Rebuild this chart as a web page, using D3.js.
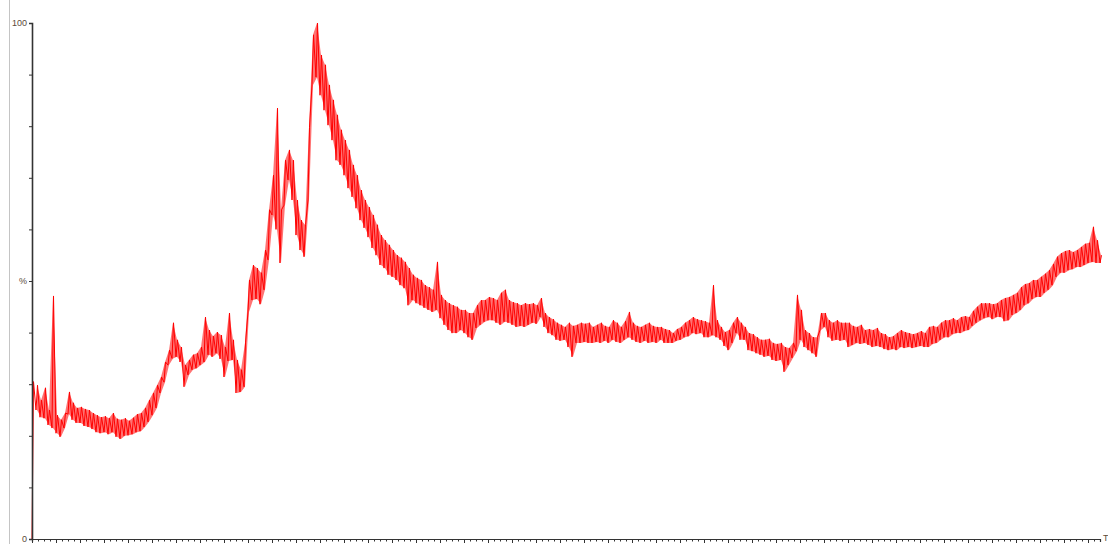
<!DOCTYPE html>
<html>
<head>
<meta charset="utf-8">
<script src="https://cdn.jsdelivr.net/npm/d3@7"></script>
<style>
  html, body { margin: 0; padding: 0; background: #fff; }
  svg { display: block; }
  text { font-family: "Liberation Sans", Arial, sans-serif; }
</style>
</head>
<body>
<svg id="chart" width="1108" height="544"></svg>
<script>
// ---- data (values in %, one low/high pair per sample, samples every 4 time units) ----
const sampleStep = 4;
const timeMax = 1068;
const lows = [
  0, 25.0, 23.6, 23.4, 22.1, 21.5, 20.5, 19.8, 21.5, 24.2,
  23.1, 22.5, 22.5, 21.9, 21.7, 21.3, 20.7, 20.5, 20.7, 20.3,
  20.7, 19.8, 19.4, 20.0, 20.1, 20.3, 20.7, 20.9, 21.7, 22.7,
  24.0, 25.4, 28.3, 30.4, 33.7, 35.0, 35.3, 34.3, 29.5, 31.8,
  32.8, 33.1, 33.7, 34.3, 35.7, 35.3, 36.0, 34.9, 31.4, 34.5,
  34.7, 28.3, 28.5, 29.5, 44.0, 46.3, 46.5, 45.5, 48.3, 54.1,
  62.8, 60.0, 53.5, 64.7, 69.6, 65.7, 58.9, 56.0, 54.7, 65.7,
  88.0, 89.5, 86.0, 83.1, 80.2, 77.3, 73.4, 72.5, 70.5, 68.0,
  66.3, 64.1, 61.8, 60.3, 58.5, 56.4, 55.0, 53.1, 52.5, 51.2,
  50.8, 50.2, 49.2, 48.6, 45.3, 46.3, 45.7, 45.3, 44.8, 44.4,
  44.0, 44.4, 42.8, 41.5, 40.5, 39.9, 39.9, 40.5, 39.9, 39.1,
  38.6, 40.9, 41.5, 42.1, 42.4, 42.4, 41.9, 41.5, 42.1, 41.9,
  41.5, 41.1, 41.3, 41.1, 41.5, 41.9, 41.7, 43.0, 41.1, 39.9,
  39.5, 38.6, 38.4, 38.6, 37.2, 35.3, 38.0, 38.0, 38.2, 38.0,
  38.0, 38.2, 38.0, 38.4, 38.0, 38.6, 38.2, 38.0, 38.6, 39.1,
  38.6, 38.2, 38.0, 38.4, 38.0, 38.2, 38.0, 38.6, 38.0, 38.0,
  38.0, 38.4, 38.6, 39.1, 39.3, 39.9, 39.7, 39.9, 39.1, 39.1,
  39.5, 39.1, 38.6, 37.4, 36.6, 38.0, 39.9, 38.6, 38.6, 36.6,
  36.4, 36.0, 35.7, 35.3, 35.5, 34.7, 34.5, 34.7, 32.4, 33.7,
  35.1, 36.4, 38.6, 37.2, 36.6, 36.0, 35.3, 40.5, 41.1, 39.1,
  38.4, 38.6, 38.4, 38.6, 37.2, 37.6, 38.0, 37.8, 38.0, 37.6,
  37.2, 37.4, 37.2, 36.8, 36.6, 36.8, 36.6, 37.2, 37.0, 37.2,
  37.0, 37.2, 37.4, 37.2, 37.2, 37.8, 38.0, 38.6, 39.1, 39.1,
  39.7, 39.9, 39.9, 40.3, 40.5, 41.3, 41.9, 42.4, 42.8, 43.0,
  42.6, 43.0, 43.0, 42.2, 42.4, 43.4, 43.8, 44.4, 45.3, 45.7,
  46.5, 46.9, 46.9, 47.7, 48.3, 49.2, 50.8, 51.6, 51.6, 52.1,
  52.3, 52.7, 52.7, 53.1, 53.5, 53.7, 53.5, 53.5
];
const highs = [
  30.5, 29.8, 26.9, 29.3, 25.0, 47.1, 24.0, 23.1, 24.4, 28.5,
  26.4, 25.4, 25.6, 25.2, 25.0, 24.4, 24.0, 23.6, 23.8, 23.4,
  24.4, 23.3, 23.1, 23.4, 22.9, 23.5, 24.2, 24.4, 25.4, 26.9,
  28.3, 29.8, 31.4, 34.3, 36.6, 41.9, 38.6, 37.2, 33.7, 34.7,
  35.7, 36.0, 37.2, 43.0, 40.5, 39.3, 40.1, 39.5, 37.2, 43.8,
  38.6, 34.7, 32.8, 38.0, 50.2, 53.1, 52.5, 51.6, 56.0, 63.8,
  70.5, 83.5, 63.8, 73.4, 75.4, 73.4, 65.7, 61.8, 60.9, 79.8,
  97.7, 100, 93.8, 91.9, 88.0, 85.1, 82.2, 79.3, 77.3, 75.4,
  72.5, 70.5, 67.6, 65.7, 64.3, 62.8, 60.9, 58.9, 57.9, 57.0,
  56.0, 55.0, 54.5, 53.7, 52.5, 51.2, 50.6, 50.2, 49.2, 48.8,
  48.3, 53.7, 47.3, 46.3, 45.7, 45.3, 45.0, 44.4, 44.4, 43.8,
  43.8, 45.3, 46.3, 46.3, 46.9, 46.7, 46.3, 47.7, 48.3, 46.3,
  45.9, 45.7, 45.3, 45.7, 45.5, 45.7, 45.3, 46.7, 43.8, 43.0,
  42.6, 41.9, 41.5, 41.1, 41.9, 41.3, 41.5, 41.9, 41.7, 41.9,
  41.1, 41.5, 41.9, 41.3, 41.1, 42.4, 41.9, 41.1, 42.2, 44.0,
  41.9, 41.3, 41.1, 41.5, 41.9, 41.3, 41.1, 41.1, 40.7, 40.5,
  39.9, 40.7, 41.1, 41.9, 42.4, 43.0, 42.6, 42.4, 42.2, 41.9,
  49.2, 42.4, 41.1, 40.1, 40.5, 41.9, 43.0, 41.9, 41.1, 39.9,
  39.7, 39.1, 38.6, 38.6, 38.8, 38.0, 37.8, 38.0, 37.2, 37.0,
  38.0, 47.3, 44.4, 40.5, 39.9, 39.1, 39.1, 43.8, 43.8, 42.4,
  41.9, 42.4, 41.9, 41.9, 41.9, 41.3, 41.1, 41.5, 40.5, 40.7,
  40.5, 40.9, 39.9, 39.7, 39.1, 39.3, 39.9, 40.5, 40.1, 39.9,
  39.7, 39.9, 40.3, 39.9, 41.1, 41.3, 41.1, 41.9, 42.4, 42.4,
  42.8, 42.4, 43.0, 43.2, 43.0, 44.2, 45.0, 45.7, 45.7, 45.7,
  45.5, 45.7, 46.3, 46.7, 46.9, 47.3, 47.7, 48.8, 49.4, 49.6,
  50.2, 50.2, 50.8, 51.4, 52.1, 53.3, 54.7, 55.4, 55.8, 56.0,
  55.6, 56.0, 56.6, 57.2, 57.4, 60.5, 57.9, 55.0
];
const yTickValues = [0, 10, 20, 30, 40, 50, 60, 70, 80, 90, 100];
const yTickLabels = { 0: "0", 50: "%", 100: "100" };
const xEndLabel = "T";

// ---- layout ----
const svg = d3.select("#chart");
const plotLeft = 32, plotRight = 1100, plotTop = 23, plotBottom = 539;

const x = d3.scaleLinear().domain([0, timeMax]).range([plotLeft, plotRight]);
const y = d3.scaleLinear().domain([0, 100]).range([plotBottom, plotTop]);

// left frame border
svg.append("line")
  .attr("x1", 9.5).attr("x2", 9.5).attr("y1", 0).attr("y2", 544)
  .attr("stroke", "#c4c4c4").attr("stroke-width", 1);

// band between low and high readings (dense noise body)
const bandData = lows.map((lo, i) => ({ t: i * sampleStep, lo: lo, hi: highs[i] }));
const band = d3.area()
  .x(d => x(d.t + 1))
  .y0(d => y(d.lo))
  .y1(d => y(d.hi));
svg.append("path")
  .datum(bandData.slice(1))
  .attr("fill", "#ff0000")
  .attr("fill-opacity", 0.55)
  .attr("stroke", "none")
  .attr("d", band);

// noisy trace: low then high for each sample
const pts = [];
bandData.forEach(d => {
  pts.push([d.t, d.lo]);
  pts.push([d.t + 1.5, d.hi]);
});
const line = d3.line().x(d => x(d[0])).y(d => y(d[1]));
svg.append("path")
  .datum(pts)
  .attr("fill", "none")
  .attr("stroke", "#ff0000")
  .attr("stroke-width", 1)
  .attr("d", line);

// y axis
const yAxis = d3.axisLeft(y)
  .tickValues(yTickValues)
  .tickSize(3)
  .tickPadding(2)
  .tickFormat(d => yTickLabels[d] || "");
const gy = svg.append("g").attr("transform", `translate(${plotLeft},0)`).call(yAxis);
gy.select(".domain").attr("stroke", "#333").attr("stroke-width", 1.6);
gy.selectAll(".tick line").attr("stroke", "#333");
gy.selectAll(".tick text").attr("fill", "#5a4a3a").attr("font-size", 9);

// x axis
const xAxis = d3.axisBottom(x)
  .tickValues(d3.range(0, timeMax + 1, 6))
  .tickSize(3)
  .tickFormat("");
const gx = svg.append("g").attr("transform", `translate(0,${plotBottom})`).call(xAxis);
gx.select(".domain").attr("stroke", "#333").attr("stroke-width", 1.2);
gx.selectAll(".tick line")
  .attr("stroke", "#333")
  .attr("y2", (d, i) => (i % 4 === 0 ? 4 : 2.5));

svg.append("text")
  .attr("x", x(timeMax) + 3)
  .attr("y", plotBottom + 2)
  .attr("font-size", 9)
  .attr("fill", "#5a4a3a")
  .text(xEndLabel);
</script>
</body>
</html>
